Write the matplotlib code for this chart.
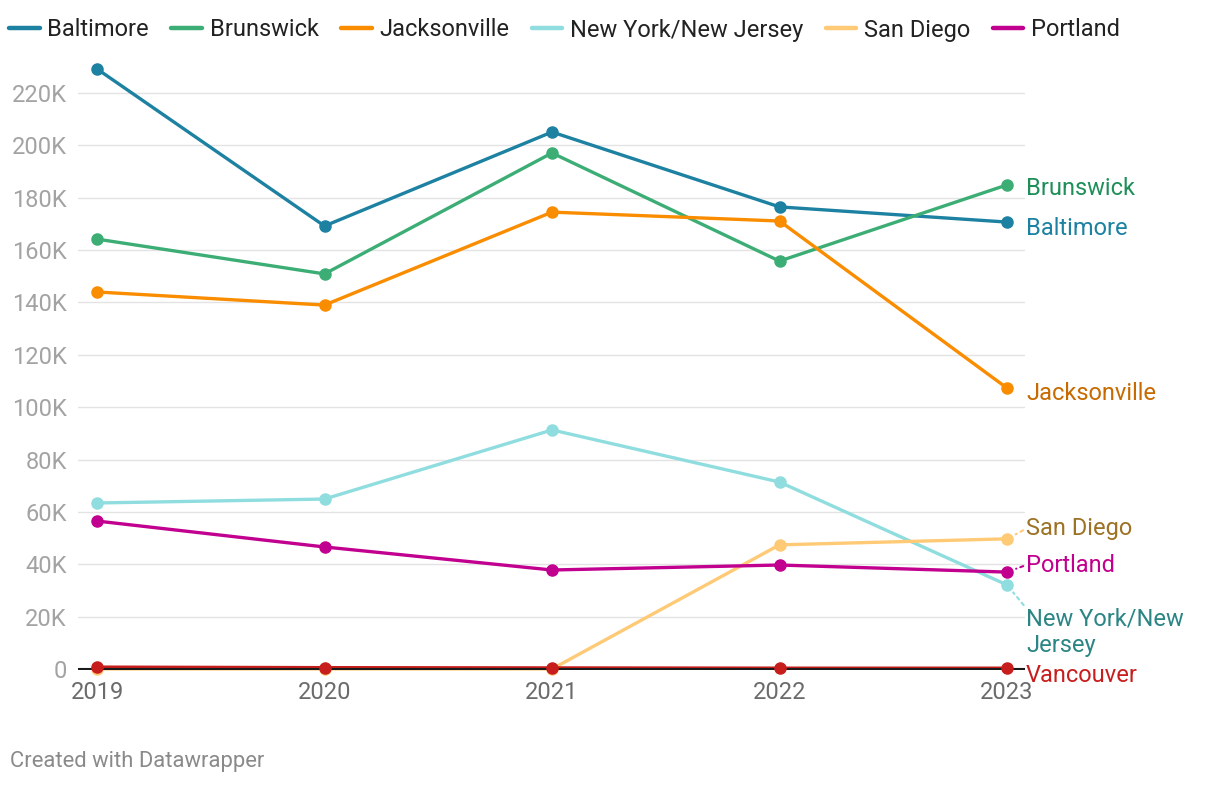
import matplotlib.pyplot as plt
from matplotlib.ticker import FuncFormatter
from matplotlib.lines import Line2D

plt.rcParams['font.family'] = ['Roboto', 'DejaVu Sans']

years = [2019, 2020, 2021, 2022, 2023]

baltimore = [229200, 169200, 205100, 176500, 170700]
brunswick = [164200, 150900, 197100, 155800, 184900]
jacksonville = [144000, 139000, 174500, 171100, 107300]
ny_nj = [63400, 64900, 91300, 71400, 32100]
san_diego = [0, 0, 0, 47400, 49700]
portland = [56500, 46600, 37800, 39700, 37000]
vancouver = [700, 500, 400, 300, 300]

# name, values, line colour, label colour, label offset (px), connector
series = [
    ("Baltimore", baltimore, "#1d81a2", "#1d81a2", -6, False),
    ("Brunswick", brunswick, "#3cae75", "#1f8f59", -4, False),
    ("Jacksonville", jacksonville, "#fa8c00", "#c76a00", -5, False),
    ("New York/New Jersey", ny_nj, "#8fdddf", "#2b8585", -20, True),
    ("San Diego", san_diego, "#ffca76", "#9c7224", 10, True),
    ("Portland", portland, "#c2008f", "#c2008f", 7, True),
]
vanc_color = "#c71e1d"

fig = plt.figure(figsize=(12.2, 7.86), dpi=100)
ax = fig.add_axes([78 / 1220, 1 - 670 / 786, (1025 - 78) / 1220, (670 - 61.6) / 786])

ax.set_xlim(2019 - 19 / 227.5, 2023 + 18 / 227.5)
ax.set_ylim(-400, 232000)

yt = list(range(0, 220001, 20000))
ax.set_yticks(yt)
ax.yaxis.set_major_formatter(FuncFormatter(lambda v, p: "0" if v == 0 else f"{int(v / 1000)}K"))
ax.set_xticks(years)
ax.tick_params(axis='y', length=0, pad=8, labelsize=17, labelcolor="#a3a3a3")
ax.tick_params(axis='x', length=0, pad=8, labelsize=17, labelcolor="#6b6b6b")
for v in yt[1:]:
    ax.axhline(v, color="#e3e3e3", lw=1, zorder=0)
for s in ax.spines.values():
    s.set_visible(False)

# San Diego first so it sits under Vancouver at zero
order = [4, 3, 5, 2, 1, 0]
for i in order:
    name, vals, col, lcol, off, conn = series[i]
    ax.plot(years, vals, color=col, lw=2.4, marker='o', ms=8,
            zorder=3 + i * 0.1, clip_on=False, solid_capstyle='round')

ax.plot(years, vancouver, color=vanc_color, lw=2.4, zorder=3.8, clip_on=False)
ax.axhline(0, color="#1a1a1a", lw=1.5, zorder=3.9)
ax.plot(years, vancouver, color=vanc_color, lw=0, marker='o', ms=8, zorder=4, clip_on=False)

# right-hand labels
lab_fs = 17
for name, vals, col, lcol, off, conn in series:
    if name == "New York/New Jersey":
        ax.annotate("New York/New\nJersey", xy=(2023, vals[-1]), xytext=(19, -23),
                    textcoords='offset pixels', ha='left', va='top', fontsize=lab_fs,
                    color=lcol, linespacing=1.15,
                    arrowprops=dict(arrowstyle='-', ls=(0, (1.5, 2)), color=col, lw=1.5,
                                    shrinkA=0, shrinkB=7, relpos=(0, 1)))
    elif conn:
        ax.annotate(name, xy=(2023, vals[-1]), xytext=(19, off), textcoords='offset pixels',
                    ha='left', va='center', fontsize=lab_fs, color=lcol,
                    arrowprops=dict(arrowstyle='-', ls=(0, (1.5, 2)), color=col, lw=1.5,
                                    shrinkA=0, shrinkB=7, relpos=(0, 0.5)))
    else:
        ax.annotate(name, xy=(2023, vals[-1]), xytext=(19, off), textcoords='offset pixels',
                    ha='left', va='center', fontsize=lab_fs, color=lcol)
ax.annotate("Vancouver", xy=(2023, vancouver[-1]), xytext=(19, -7), textcoords='offset pixels',
            ha='left', va='center', fontsize=lab_fs, color=vanc_color)

# legend
leg_h = [Line2D([], [], color=c, lw=3.2, solid_capstyle='round') for _, _, c, _, _, _ in series]
leg_l = [n for n, *_ in series]
fig.legend(leg_h, leg_l, loc='center left', bbox_to_anchor=(9 / 1220, 1 - 30 / 786),
           ncol=6, frameon=False, fontsize=17, handlelength=1.3, handletextpad=0.33,
           columnspacing=0.94, borderpad=0, borderaxespad=0, labelcolor="#222222")

fig.text(10 / 1220, 1 - 762 / 786, "Created with Datawrapper", fontsize=15.8,
         color="#8a8a8a", va='center', ha='left')

fig.savefig("out.png", dpi=100, facecolor='white')
